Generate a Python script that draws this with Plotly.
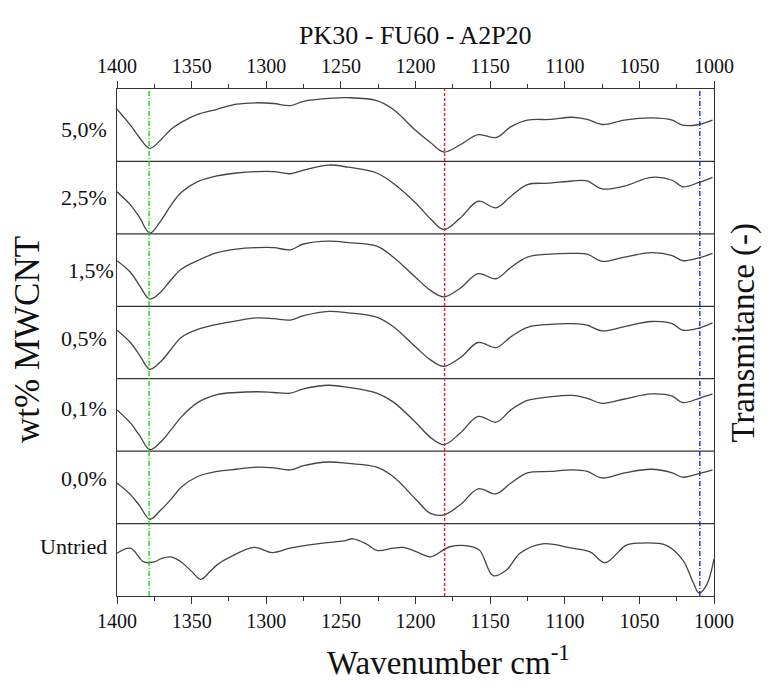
import plotly.graph_objects as go

# ---------------- data ----------------
wavenumber = [1400, 1391, 1385, 1378, 1371, 1364, 1357, 1346, 1333, 1320, 1306, 1295,
              1284, 1275, 1258, 1245, 1226, 1215, 1200, 1190, 1181, 1170, 1158, 1146,
              1136, 1125, 1110, 1095, 1085, 1075, 1060, 1042, 1028, 1021, 1010, 1001]

t_5_0 = [0.72, 0.50, 0.33, 0.18, 0.29, 0.44, 0.54, 0.65, 0.72, 0.79, 0.81, 0.80,
         0.77, 0.83, 0.87, 0.88, 0.84, 0.72, 0.43, 0.26, 0.13, 0.23, 0.37, 0.33,
         0.48, 0.57, 0.58, 0.61, 0.58, 0.51, 0.57, 0.60, 0.57, 0.50, 0.51, 0.57]
t_2_5 = [0.58, 0.40, 0.23, 0.01, 0.17, 0.39, 0.57, 0.72, 0.80, 0.84, 0.86, 0.86,
         0.83, 0.88, 0.95, 0.92, 0.84, 0.70, 0.43, 0.21, 0.06, 0.22, 0.45, 0.36,
         0.52, 0.68, 0.70, 0.73, 0.73, 0.62, 0.66, 0.78, 0.74, 0.65, 0.71, 0.78]
t_1_5 = [0.63, 0.47, 0.29, 0.10, 0.19, 0.36, 0.51, 0.63, 0.74, 0.79, 0.81, 0.81,
         0.78, 0.86, 0.90, 0.88, 0.83, 0.68, 0.40, 0.22, 0.13, 0.25, 0.45, 0.38,
         0.54, 0.68, 0.72, 0.73, 0.72, 0.62, 0.68, 0.74, 0.70, 0.63, 0.67, 0.73]
t_0_5 = [0.67, 0.50, 0.33, 0.13, 0.23, 0.40, 0.57, 0.68, 0.75, 0.80, 0.84, 0.83,
         0.81, 0.87, 0.93, 0.91, 0.85, 0.72, 0.44, 0.26, 0.17, 0.29, 0.50, 0.43,
         0.58, 0.71, 0.75, 0.76, 0.74, 0.66, 0.72, 0.79, 0.76, 0.67, 0.70, 0.77]
t_0_1 = [0.57, 0.39, 0.22, 0.02, 0.12, 0.29, 0.47, 0.67, 0.78, 0.81, 0.82, 0.81,
         0.80, 0.86, 0.91, 0.88, 0.80, 0.68, 0.40, 0.19, 0.09, 0.25, 0.48, 0.40,
         0.57, 0.70, 0.75, 0.77, 0.73, 0.66, 0.72, 0.79, 0.76, 0.67, 0.73, 0.79]
t_0_0 = [0.56, 0.40, 0.25, 0.06, 0.18, 0.33, 0.50, 0.65, 0.72, 0.75, 0.78, 0.77,
         0.74, 0.80, 0.85, 0.83, 0.78, 0.65, 0.34, 0.14, 0.12, 0.26, 0.48, 0.41,
         0.56, 0.70, 0.72, 0.74, 0.72, 0.63, 0.70, 0.75, 0.70, 0.64, 0.69, 0.74]

wavenumber_untried = [1400, 1391, 1382, 1375, 1370, 1364, 1357, 1350, 1344, 1338, 1333,
                      1324, 1308, 1296, 1284, 1262, 1248, 1242, 1233, 1226, 1215, 1208,
                      1197, 1190, 1177, 1164, 1157, 1148, 1139, 1130, 1115, 1095, 1083,
                      1073, 1059, 1050, 1032, 1021, 1014, 1010, 1005, 1000]
t_untried = [0.59, 0.66, 0.47, 0.47, 0.52, 0.54, 0.47, 0.34, 0.23, 0.33, 0.43,
             0.54, 0.67, 0.60, 0.66, 0.73, 0.76, 0.79, 0.72, 0.63, 0.66, 0.67,
             0.59, 0.54, 0.68, 0.69, 0.63, 0.28, 0.36, 0.59, 0.72, 0.66, 0.61,
             0.46, 0.70, 0.73, 0.70, 0.50, 0.19, 0.04, 0.15, 0.51]

labels = ["5,0%", "2,5%", "1,5%", "0,5%", "0,1%", "0,0%", "Untried"]
series_x = [wavenumber] * 6 + [wavenumber_untried]
series_y = [t_5_0, t_2_5, t_1_5, t_0_5, t_0_1, t_0_0, t_untried]

ref_lines = [1378.5, 1180.5, 1009.5]
ref_colors = ["#11dd11", "#e82020", "#2020e8"]
ref_dash = ["5px,2px,1px,2px", "3px,2px", "5px,2px,1px,2px"]

x_ticks = [1400, 1350, 1300, 1250, 1200, 1150, 1100, 1050, 1000]

FONT = "Liberation Serif"
n = len(labels)

fig = go.Figure()
for i, (xs, ys) in enumerate(zip(series_x, series_y)):
    offset = n - 1 - i
    fig.add_trace(go.Scatter(
        x=xs, y=[v + offset for v in ys], mode="lines",
        line=dict(color="#444444", width=1.3, shape="spline", smoothing=1.0),
        showlegend=False, hoverinfo="skip"))

# invisible trace to activate top axis
fig.add_trace(go.Scatter(x=[1400, 1000], y=[0, 0], xaxis="x2", yaxis="y",
                         mode="lines", line=dict(width=0), opacity=0,
                         showlegend=False, hoverinfo="skip"))

shapes = []
for k in range(1, n):
    shapes.append(dict(type="line", xref="paper", yref="y", x0=0, x1=1, y0=k, y1=k,
                       line=dict(color="#333333", width=1.3)))
for xv, c, d in zip(ref_lines, ref_colors, ref_dash):
    shapes.append(dict(type="line", xref="x", yref="paper", x0=xv, x1=xv, y0=0, y1=1,
                       line=dict(color=c, width=1.4, dash=d)))

label_yshift = [-4, 0, 0, 4, 6, 9, 13]
label_xshift = [-8, -8, -1, -8, -8, -8, -8]
annotations = []
for i, lab in enumerate(labels):
    annotations.append(dict(
        text=lab, xref="paper", yref="y", x=0, y=n - 1 - i + 0.5,
        xanchor="right", yanchor="middle", showarrow=False,
        xshift=label_xshift[i], yshift=label_yshift[i],
        font=dict(family=FONT, size=22, color="#111111")))

annotations += [
    dict(text="wt% MWCNT", xref="paper", yref="paper", x=-0.149, y=0.505,
         textangle=-90, showarrow=False, xanchor="center", yanchor="middle",
         font=dict(family=FONT, size=35, color="#111111")),
    dict(text="Transmitance (-)", xref="paper", yref="paper", x=1.049, y=0.52,
         textangle=-90, showarrow=False, xanchor="center", yanchor="middle",
         font=dict(family=FONT, size=33, color="#111111")),
    dict(text="Wavenumber cm<sup>-1</sup>", xref="paper", yref="paper", x=0.556, y=-0.126,
         showarrow=False, xanchor="center", yanchor="middle",
         font=dict(family=FONT, size=33, color="#111111")),
    dict(text="PK30 - FU60 - A2P20", xref="paper", yref="paper", x=0.5, y=1.1065,
         showarrow=False, xanchor="center", yanchor="middle",
         font=dict(family=FONT, size=26, color="#111111")),
]

axis_common = dict(
    range=[1400, 1000], autorange=False, tickvals=x_ticks,
    ticks="outside", ticklen=7, tickwidth=1.2, tickcolor="#333333",
    showline=True, linecolor="#333333", linewidth=1.3,
    showgrid=False, zeroline=False,
    tickfont=dict(family=FONT, size=20, color="#111111"),
    minor=dict(tickvals=[1375, 1325, 1275, 1225, 1175, 1125, 1075, 1025],
               ticks="outside", ticklen=4, tickcolor="#333333", tickwidth=1.2,
               showgrid=False),
)

# the page body has an 8px default margin, so the figure is sized/offset accordingly
fig.update_layout(
    width=774, height=684,
    margin=dict(l=109, r=68, t=81, b=96),
    paper_bgcolor="white", plot_bgcolor="white",
    xaxis=dict(**axis_common, side="bottom"),
    xaxis2=dict(**axis_common, side="top", overlaying="x", anchor="y"),
    yaxis=dict(range=[0, n], autorange=False, showticklabels=False, ticks="",
               showgrid=False, zeroline=False, showline=True, mirror=True,
               linecolor="#333333", linewidth=1.3),
    shapes=shapes, annotations=annotations,
    showlegend=False,
)

fig.write_html("out.html")
